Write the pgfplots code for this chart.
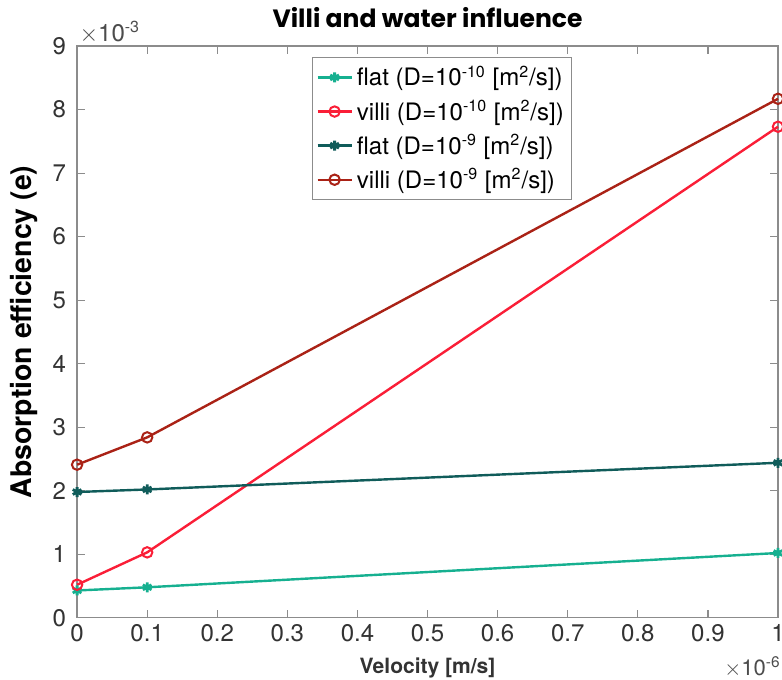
\documentclass[border=0pt]{standalone}
\usepackage{fontspec}
\setmainfont{TeX Gyre Heros}
\newfontfamily\titlefont{Poppins}
\usepackage{pgfplots}
\pgfplotsset{compat=1.18}
\definecolor{cflatA}{RGB}{22,176,144}
\definecolor{cvilA}{RGB}{250,30,55}
\definecolor{cflatB}{RGB}{16,92,90}
\definecolor{cvilB}{RGB}{170,34,22}
\definecolor{axgray}{RGB}{140,140,140}
\newcommand{\sups}[1]{\textsuperscript{#1}}
\begin{document}
\begin{tikzpicture}
\begin{axis}[
    width=350pt, height=285.5pt, scale only axis,
    xmin=0, xmax=1, ymin=0, ymax=9,
    xtick={0,0.1,...,1}, ytick={0,1,...,9},
    xticklabels={0,0.1,0.2,0.3,0.4,0.5,0.6,0.7,0.8,0.9,1},
    yticklabels={0,1,2,3,4,5,6,7,8,9},
    tick align=inside, major tick length=4pt,
    axis line style={axgray, line width=0.6pt},
    every tick/.style={axgray, line width=0.6pt},
    tick label style={font=\fontsize{12}{14}\selectfont, text=black!80},
    yticklabel style={xshift=-2pt},
    title={\titlefont\fontsize{12.5}{15}\selectfont\bfseries Villi and water influence},
    title style={yshift=1pt, inner sep=2pt},
    xlabel={\fontsize{10.5}{12}\selectfont\bfseries Velocity [m/s]},
    ylabel={\fontsize{14.2}{17}\selectfont\bfseries Absorption efficiency (e)},
    xlabel style={yshift=-3pt, inner sep=1pt, text=black!80},
    ylabel style={yshift=-2pt, inner sep=6pt},
    legend style={at={(0.335,0.98)}, anchor=north west, draw=axgray,
      font=\fontsize{12}{14}\selectfont, row sep=1.5pt, inner sep=2pt},
    legend image code/.code={%
      \draw[mark repeat=2,mark phase=2] plot coordinates {(0cm,0cm)(0.3cm,0cm)(0.6cm,0cm)};},
    legend cell align=left,
    clip=false,
]
\addplot[cflatA, line width=1.2pt, mark=asterisk, mark size=2.5pt, mark options={line width=1.4pt}]
  coordinates {(0,0.43)(0.1,0.48)(1,1.02)};
\addplot[cvilA, line width=1.2pt, mark=o, mark size=2.6pt, mark options={line width=1pt}]
  coordinates {(0,0.52)(0.1,1.03)(1,7.73)};
\addplot[cflatB, line width=1.2pt, mark=asterisk, mark size=2.5pt, mark options={line width=1.4pt}]
  coordinates {(0,1.98)(0.1,2.02)(1,2.44)};
\addplot[cvilB, line width=1.2pt, mark=o, mark size=2.6pt, mark options={line width=1pt}]
  coordinates {(0,2.41)(0.1,2.84)(1,8.17)};
\legend{flat (D=10\sups{-10} [m\sups{2}/s]),villi (D=10\sups{-10} [m\sups{2}/s]),flat (D=10\sups{-9} [m\sups{2}/s]),villi (D=10\sups{-9} [m\sups{2}/s])}
\node[anchor=south west, font=\fontsize{12}{14}\selectfont, text=black!70, inner sep=1pt]
  at (axis cs:0,9) {$\times$10\sups{-3}};
\node[anchor=north east, font=\fontsize{11}{13}\selectfont, text=black!70, inner sep=0pt]
  at ([xshift=1.5pt,yshift=-19pt]axis cs:1,0) {$\times$10\sups{-6}};
\coordinate (bl) at (rel axis cs:0,0);
\coordinate (tr) at (rel axis cs:1,1);
\end{axis}
\pgfresetboundingbox
\path[use as bounding box] ([xshift=-38.5pt,yshift=-31pt]bl) rectangle ([xshift=2pt,yshift=23pt]tr);
\end{tikzpicture}
\end{document}
